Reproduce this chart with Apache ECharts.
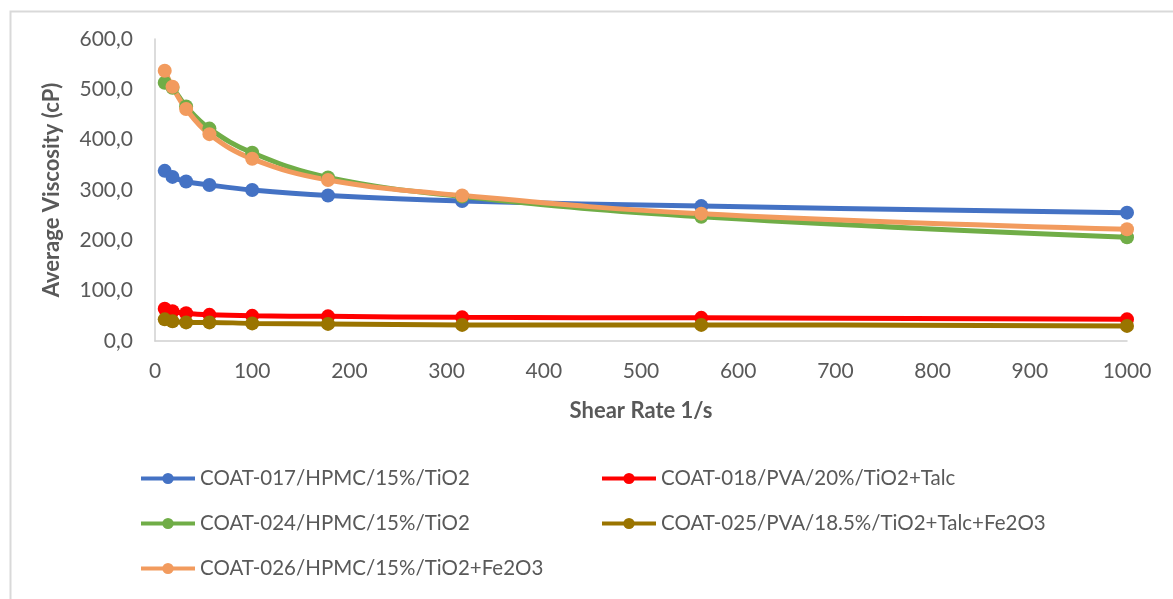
<!DOCTYPE html>
<html>
<head>
<meta charset="utf-8">
<script src="https://cdn.jsdelivr.net/npm/echarts@6/dist/echarts.min.js"></script>
<style>
  html, body { margin: 0; padding: 0; background: #fff; }
  #chart { width: 1173px; height: 599px; }
</style>
</head>
<body>
<div id="chart"></div>
<script>
// Shear rates (1/s) and average viscosity (cP) per coating formulation
const shearRate = [10, 18, 32, 56, 100, 178, 316, 562, 1000];
const coat017 = [338, 326, 317, 310, 300, 289, 278, 268, 255];
const coat018 = [64, 59, 55, 52, 50, 49, 47, 46, 43];
const coat024 = [513, 503, 466, 422, 374, 325, 287, 247, 206];
const coat025 = [43, 39, 37, 37, 35, 34, 32, 32, 30];
const coat026 = [537, 505, 461, 411, 362, 320, 289, 253, 222];

const seriesNames = [
  'COAT-017/HPMC/15%/TiO2',
  'COAT-018/PVA/20%/TiO2+Talc',
  'COAT-024/HPMC/15%/TiO2',
  'COAT-025/PVA/18.5%/TiO2+Talc+Fe2O3',
  'COAT-026/HPMC/15%/TiO2+Fe2O3'
];
const seriesValues = [coat017, coat018, coat024, coat025, coat026];
const seriesColors = ['#4472C4', '#FF0000', '#70AD47', '#9A7400', '#F29B5E'];

const FONT = 'Lato, "Open Sans", sans-serif';
const TEXT = '#595959';

const chart = echarts.init(document.getElementById('chart'));

const series = seriesNames.map((name, i) => ({
  name,
  type: 'line',
  smooth: 0.4,
  data: shearRate.map((x, j) => [x, seriesValues[i][j]]),
  symbol: 'circle',
  symbolSize: 14,
  lineStyle: { width: 5, color: seriesColors[i] },
  itemStyle: { color: seriesColors[i] },
  animation: false
}));

const legendCommon = {
  orient: 'vertical',
  top: 463,
  itemWidth: 54,
  itemHeight: 14,
  itemGap: 24,
  lineStyle: { width: 4 },
  textStyle: { fontFamily: FONT, fontSize: 20.5, color: TEXT }
};

chart.setOption({
  backgroundColor: '#fff',
  animation: false,
  graphic: [{
    type: 'rect',
    left: 8, top: 9,
    shape: { width: 1300, height: 700 },
    style: { fill: 'none', stroke: '#d9d9d9', lineWidth: 2 },
    silent: true,
    z: -1
  }],
  grid: { left: 155, right: 46, top: 39, bottom: 258, containLabel: false },
  legend: [
    Object.assign({}, legendCommon, {
      left: 134,
      data: [seriesNames[0], seriesNames[2], seriesNames[4]]
    }),
    Object.assign({}, legendCommon, {
      left: 595,
      data: [seriesNames[1], seriesNames[3]]
    })
  ],
  xAxis: {
    type: 'value',
    min: 0, max: 1000, interval: 100,
    name: 'Shear Rate 1/s',
    nameLocation: 'middle',
    nameGap: 59,
    nameTextStyle: { fontFamily: FONT, fontSize: 22, fontWeight: 'bold', color: TEXT },
    axisLine: { show: true, lineStyle: { color: '#d0d0d0', width: 1.5 } },
    axisTick: { show: false },
    splitLine: { show: false },
    axisLabel: {
      fontFamily: FONT, fontSize: 21, color: TEXT, margin: 20,
      formatter: v => String(v)
    }
  },
  yAxis: {
    type: 'value',
    min: 0, max: 600, interval: 100,
    name: 'Average Viscosity (cP)',
    nameLocation: 'middle',
    nameGap: 92,
    nameRotate: 90,
    nameTextStyle: { fontFamily: FONT, fontSize: 22, fontWeight: 'bold', color: TEXT },
    axisLine: { show: true, lineStyle: { color: '#d0d0d0', width: 1.5 } },
    axisTick: { show: false },
    splitLine: { show: false },
    axisLabel: {
      fontFamily: FONT, fontSize: 21, color: TEXT, margin: 22,
      formatter: v => v.toFixed(1).replace('.', ',')
    }
  },
  series
});
</script>
</body>
</html>
